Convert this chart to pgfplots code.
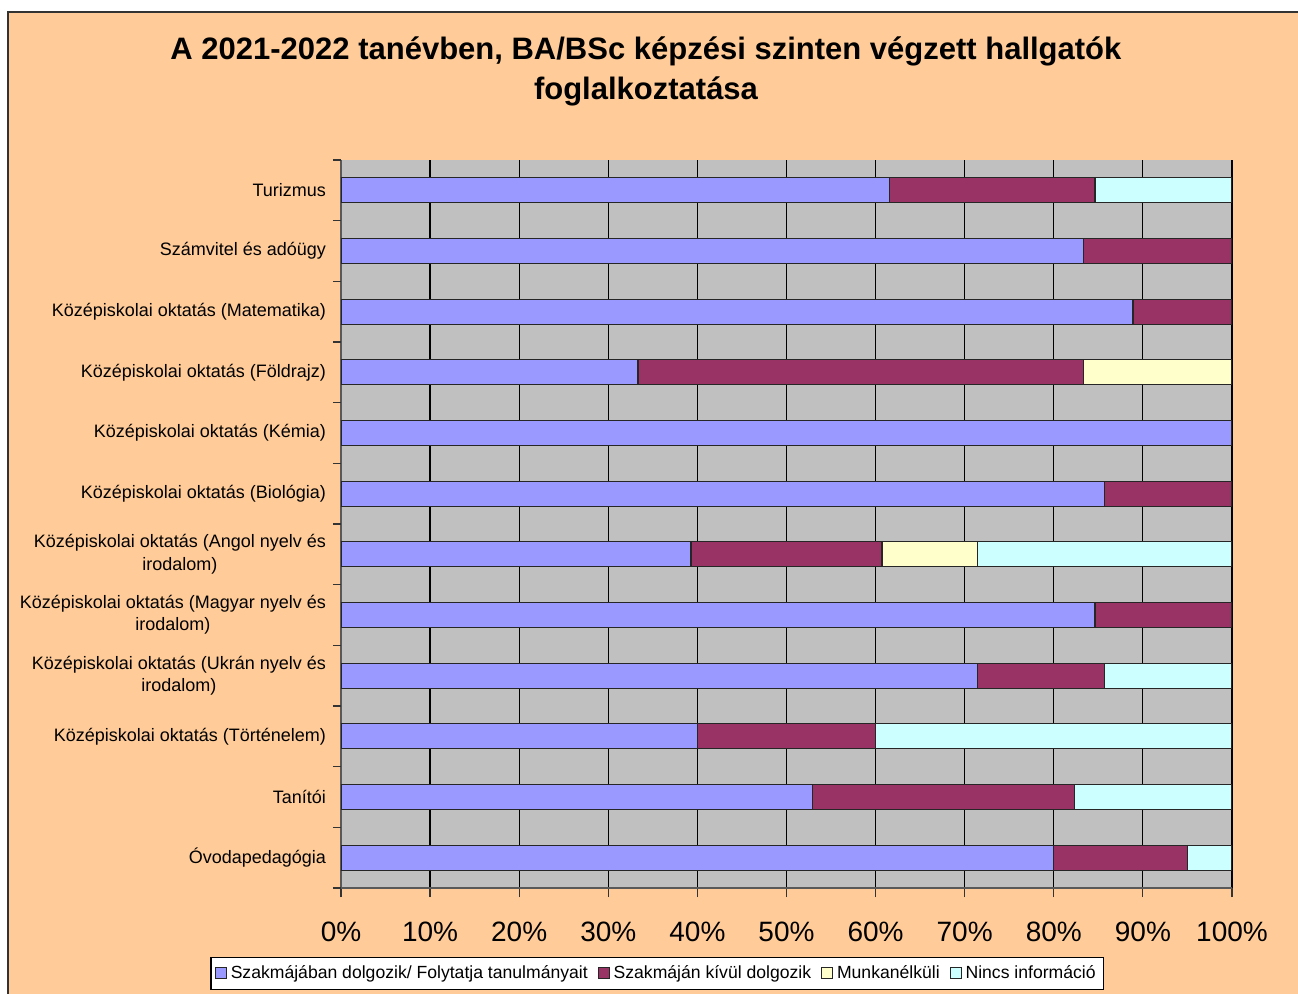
\documentclass[border=0pt]{standalone}
\usepackage{pgfplots}
\pgfplotsset{compat=1.18}
\usepackage{fontspec}
\setmainfont{Liberation Sans}
\definecolor{bgpeach}{HTML}{FFCC99}
\definecolor{plotgray}{HTML}{C0C0C0}
\definecolor{cblue}{HTML}{9999FF}
\definecolor{cmaroon}{HTML}{993366}
\definecolor{cyellow}{HTML}{FFFFCC}
\definecolor{ccyan}{HTML}{CCFFFF}
\begin{document}
\begin{tikzpicture}[x=1pt,y=1pt]
\useasboundingbox (0,0) rectangle (649,496.5);
\fill[white] (0,0) rectangle (649,496.5);
\filldraw[fill=bgpeach, draw=black!80, line width=0.8pt] (4,-5) rectangle (660,490.5);
\node[font=\fontsize{15.5}{20}\selectfont\bfseries, align=center] at (323,461) {A 2021-2022 tanévben, BA/BSc képzési szinten végzett hallgatók\\foglalkoztatása};
\begin{axis}[
  at={(170.5pt,52.5pt)}, anchor=south west,
  scale only axis, width=445.5pt, height=364pt,
  xbar stacked, bar width=12.5pt,
  xmin=0, xmax=100, ymin=-0.5, ymax=11.5,
  axis background/.style={fill=plotgray},
  axis lines=left, axis line style={-, draw=black!65, line width=0.8pt},
  xtick={0,10,...,100},
  xticklabel={\pgfmathprintnumber{\tick}\%},
  /pgf/number format/assume math mode=true,
  xticklabel style={font=\fontsize{14}{16}\selectfont, yshift=-9pt},
  xmajorgrids, major grid style={black, line width=0.6pt},
  tick align=outside, major tick length=4.5pt,
  tick style={black!80, line width=0.6pt},
  ytick={0,...,11},
  yticklabels={Óvodapedagógia, Tanítói, Középiskolai oktatás (Történelem), {Középiskolai oktatás (Ukrán nyelv és\\irodalom)}, {Középiskolai oktatás (Magyar nyelv és\\irodalom)}, {Középiskolai oktatás (Angol nyelv és\\irodalom)}, Középiskolai oktatás (Biológia), Középiskolai oktatás (Kémia), Középiskolai oktatás (Földrajz), Középiskolai oktatás (Matematika), Számvitel és adóügy, Turizmus},
  yticklabel style={font=\fontsize{9}{11.2}\selectfont, align=center, xshift=0.5pt},
  ytick style={draw=none},
  extra y ticks={-0.5,0.5,...,11.5},
  extra y tick labels={},
  extra y tick style={ytick style={draw=black!80, line width=0.6pt}, major tick length=4pt, grid=none},
  legend columns=4,
  legend style={at={(0.355,-0.117)}, anchor=center, draw=black, fill=white, line width=0.6pt,
    font=\fontsize{8.8}{10}\selectfont, inner xsep=2pt, inner ysep=2pt,
    /tikz/every even column/.append style={column sep=3pt}},
  legend image code/.code={\draw[#1, line width=0.5pt] (0pt,-2.7pt) rectangle (5.4pt,2.7pt);},
  every axis plot/.append style={draw=black!85, line width=0.6pt},
]
\addplot[fill=cblue] coordinates {(80,0) (52.94,1) (40,2) (71.43,3) (84.62,4) (39.29,5) (85.71,6) (100,7) (33.33,8) (88.89,9) (83.33,10) (61.54,11)};
\addplot[fill=cmaroon] coordinates {(15,0) (29.41,1) (20,2) (14.29,3) (15.38,4) (21.43,5) (14.29,6) (0,7) (50,8) (11.11,9) (16.67,10) (23.08,11)};
\addplot[fill=cyellow] coordinates {(0,0) (0,1) (0,2) (0,3) (0,4) (10.71,5) (0,6) (0,7) (16.67,8) (0,9) (0,10) (0,11)};
\addplot[fill=ccyan] coordinates {(5,0) (17.65,1) (40,2) (14.29,3) (0,4) (28.57,5) (0,6) (0,7) (0,8) (0,9) (0,10) (15.38,11)};
\legend{Szakmájában dolgozik/ Folytatja tanulmányait, Szakmáján kívül dolgozik, Munkanélküli, Nincs információ}
\end{axis}
\end{tikzpicture}
\end{document}
